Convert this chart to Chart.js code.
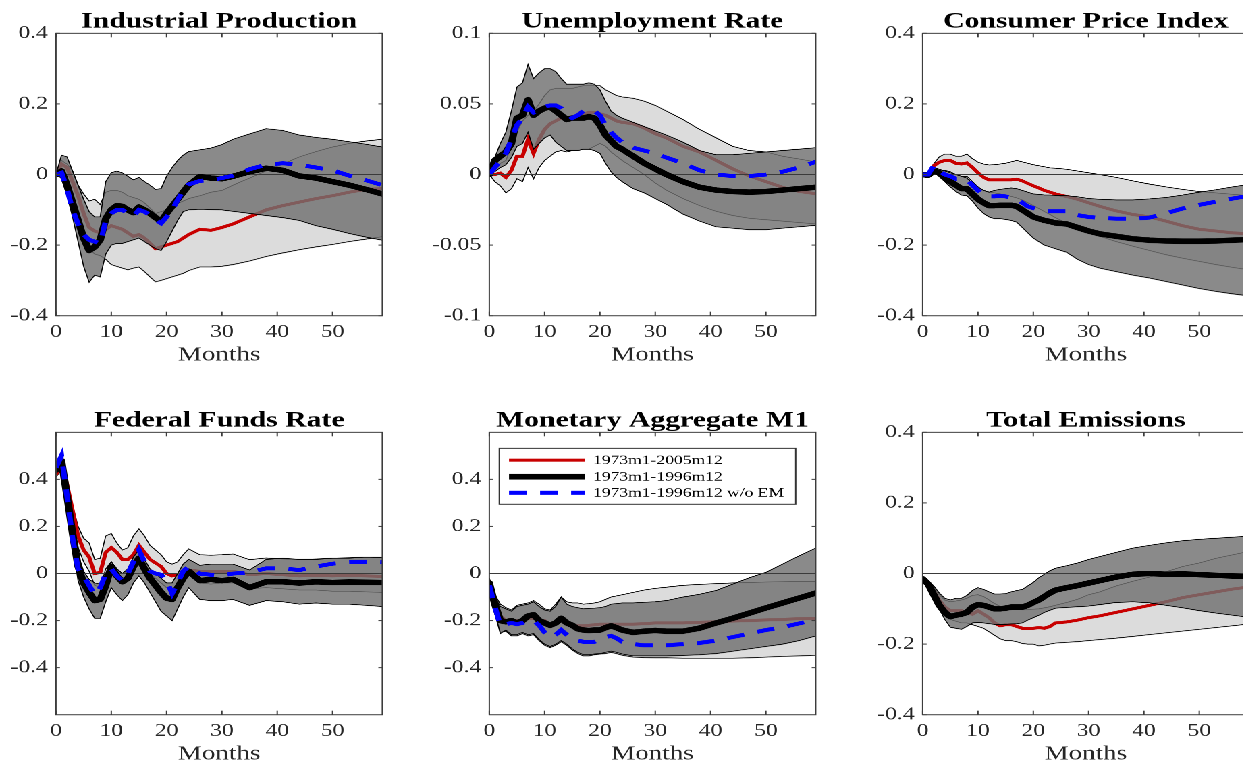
<!DOCTYPE html>
<html>
<head>
<meta charset="utf-8">
<script src="https://cdn.jsdelivr.net/npm/chart.js@4/dist/chart.umd.min.js"></script>
<style>
  html, body { margin: 0; padding: 0; background: #fff; overflow: hidden; width: 1243px; height: 763px; }
  #sheet { position: absolute; left: 0; top: 0; width: 1000px; height: 763px; transform: scaleX(1.35); transform-origin: 0 0; }
  .panel { position: absolute; }
</style>
</head>
<body>
<div id="sheet"></div>
<script>
// Horizontal stretch applied to the whole sheet of panels
const S = 1.35;
const FONT = '"Liberation Serif", "Times New Roman", serif';

// Forecast horizon (months) at which responses are listed
const months = [0,1,2,3,4,5,6,7,8,9,10,11,12,13,14,15,16,17,18,19,20,21,22,23,24,
                26,28,30,32,35,38,41,44,47,50,53,56,59];
const xRange = [0, 59];
const xTicks = [0, 10, 20, 30, 40, 50];
const yTicksWide = [-0.4, -0.2, 0, 0.2, 0.4];
const yTicksNarrow = [-0.1, -0.05, 0, 0.05, 0.1];

const panelTitles = ['Industrial Production', 'Unemployment Rate', 'Consumer Price Index',
                     'Federal Funds Rate', 'Monetary Aggregate M1', 'Total Emissions'];
const seriesLabels = ['1973m1-2005m12', '1973m1-1996m12', '1973m1-1996m12 w/o EM'];
const axisTitle = 'Months';

// Industrial production
const ipRed = [0,0.03,0.02,-0.02,-0.06,-0.11,-0.15,-0.16,-0.165,-0.155,-0.145,-0.15,-0.155,-0.165,-0.175,-0.17,-0.18,-0.195,-0.21,-0.205,-0.2,-0.195,-0.19,-0.18,-0.17,
  -0.155,-0.158,-0.15,-0.14,-0.12,-0.1,-0.088,-0.078,-0.068,-0.06,-0.05,-0.042,-0.04];
const ipRedHi = [0,0.04,0.03,0.01,-0.03,-0.055,-0.075,-0.07,-0.085,-0.05,-0.045,-0.045,-0.05,-0.06,-0.065,-0.07,-0.08,-0.095,-0.11,-0.105,-0.1,-0.09,-0.082,-0.075,-0.068,
  -0.06,-0.05,-0.045,-0.03,-0.01,0.01,0.03,0.05,0.065,0.078,0.088,0.095,0.1];
const ipRedLo = [0,-0.005,-0.04,-0.09,-0.14,-0.18,-0.21,-0.225,-0.23,-0.24,-0.255,-0.26,-0.265,-0.27,-0.265,-0.262,-0.275,-0.29,-0.304,-0.3,-0.295,-0.29,-0.285,-0.28,-0.272,
  -0.262,-0.262,-0.26,-0.255,-0.245,-0.232,-0.222,-0.213,-0.205,-0.198,-0.19,-0.183,-0.176];
const ipBlack = [0,0.01,-0.03,-0.08,-0.13,-0.18,-0.215,-0.205,-0.185,-0.125,-0.1,-0.088,-0.09,-0.1,-0.108,-0.092,-0.1,-0.11,-0.122,-0.133,-0.11,-0.09,-0.07,-0.05,-0.03,
  -0.006,-0.01,-0.012,-0.005,0.008,0.018,0.012,-0.004,-0.01,-0.02,-0.03,-0.042,-0.055];
const ipBlackHi = [0,0.055,0.05,0.01,-0.03,-0.07,-0.105,-0.12,-0.12,-0.02,0.005,0.01,0.005,-0.005,-0.015,-0.008,-0.02,-0.03,-0.042,-0.04,-0.005,0.02,0.04,0.055,0.065,
  0.07,0.075,0.085,0.1,0.115,0.13,0.125,0.112,0.105,0.1,0.093,0.086,0.078];
const ipBlackLo = [0,-0.01,-0.06,-0.12,-0.19,-0.26,-0.305,-0.285,-0.29,-0.225,-0.2,-0.195,-0.195,-0.19,-0.185,-0.18,-0.19,-0.2,-0.21,-0.215,-0.19,-0.16,-0.13,-0.105,-0.1,
  -0.098,-0.099,-0.1,-0.104,-0.11,-0.116,-0.122,-0.13,-0.145,-0.155,-0.167,-0.177,-0.186];
const ipBlue = [0,0.005,-0.04,-0.1,-0.14,-0.17,-0.185,-0.19,-0.195,-0.13,-0.11,-0.1,-0.1,-0.11,-0.118,-0.1,-0.105,-0.115,-0.128,-0.138,-0.12,-0.1,-0.072,-0.045,-0.028,
  -0.018,-0.015,-0.01,-0.003,0.015,0.028,0.032,0.028,0.02,0.012,-0.003,-0.016,-0.03];

// Unemployment rate
const urRed = [0,0,0.001,-0.002,0.003,0.013,0.013,0.025,0.015,0.025,0.032,0.036,0.038,0.04,0.04,0.04,0.042,0.043,0.044,0.044,0.043,0.042,0.04,0.038,0.037,
  0.036,0.033,0.029,0.026,0.02,0.016,0.01,0.004,-0.001,-0.005,-0.009,-0.012,-0.0135];
const urRedHi = [0,0.005,0.008,0.01,0.02,0.03,0.038,0.042,0.045,0.05,0.056,0.06,0.061,0.061,0.061,0.061,0.062,0.063,0.063,0.063,0.063,0.06,0.058,0.056,0.055,
  0.054,0.052,0.049,0.045,0.039,0.032,0.026,0.02,0.017,0.016,0.013,0.011,0.009];
const urRedLo = [0,-0.005,-0.008,-0.013,-0.01,-0.003,-0.005,0.005,-0.003,0.005,0.01,0.013,0.016,0.017,0.016,0.017,0.017,0.018,0.018,0.02,0.022,0.02,0.016,0.013,0.01,
  0.005,0,-0.006,-0.011,-0.017,-0.022,-0.026,-0.029,-0.031,-0.032,-0.033,-0.034,-0.035];
const urBlack = [0,0.01,0.013,0.016,0.022,0.04,0.042,0.053,0.042,0.045,0.047,0.048,0.045,0.042,0.039,0.04,0.04,0.04,0.041,0.04,0.035,0.028,0.024,0.02,0.018,
  0.013,0.008,0.004,0,-0.005,-0.009,-0.011,-0.012,-0.0125,-0.012,-0.011,-0.01,-0.009];
const urBlackHi = [0,0.012,0.022,0.03,0.045,0.062,0.065,0.078,0.068,0.072,0.075,0.075,0.073,0.068,0.064,0.064,0.064,0.064,0.065,0.064,0.06,0.052,0.045,0.042,0.04,
  0.037,0.034,0.031,0.028,0.023,0.017,0.014,0.014,0.015,0.016,0.017,0.018,0.019];
const urBlackLo = [0,0.002,0.005,0.007,0.012,0.02,0.022,0.03,0.018,0.022,0.026,0.028,0.023,0.02,0.017,0.017,0.017,0.018,0.018,0.017,0.015,0.008,0.002,-0.002,-0.005,
  -0.01,-0.013,-0.017,-0.021,-0.028,-0.033,-0.037,-0.038,-0.039,-0.039,-0.038,-0.037,-0.036];
const urBlue = [0,0.005,0.01,0.015,0.025,0.035,0.04,0.048,0.044,0.046,0.048,0.049,0.049,0.047,0.043,0.04,0.042,0.045,0.046,0.045,0.042,0.035,0.03,0.026,0.023,
  0.019,0.017,0.015,0.012,0.008,0.003,0,-0.001,-0.001,0,0.002,0.005,0.009];

// Consumer price index
const cpiRed = [0,0,0.025,0.035,0.04,0.04,0.032,0.03,0.033,0.02,0.005,-0.008,-0.015,-0.015,-0.015,-0.015,-0.015,-0.013,-0.018,-0.025,-0.032,-0.038,-0.045,-0.05,-0.055,
  -0.062,-0.07,-0.08,-0.09,-0.103,-0.113,-0.12,-0.132,-0.145,-0.155,-0.16,-0.165,-0.168];
const cpiRedHi = [0,0.005,0.03,0.05,0.058,0.058,0.052,0.052,0.058,0.045,0.035,0.03,0.027,0.028,0.03,0.032,0.036,0.04,0.036,0.032,0.028,0.025,0.022,0.019,0.018,
  0.015,0.01,0.005,0,-0.008,-0.018,-0.027,-0.035,-0.042,-0.048,-0.052,-0.056,-0.06];
const cpiRedLo = [0,-0.005,0.005,0.01,0.012,0.008,0,-0.005,-0.005,-0.02,-0.035,-0.045,-0.05,-0.052,-0.055,-0.058,-0.062,-0.066,-0.072,-0.08,-0.088,-0.096,-0.105,-0.113,-0.122,
  -0.137,-0.152,-0.165,-0.175,-0.19,-0.203,-0.215,-0.227,-0.237,-0.246,-0.255,-0.263,-0.27];
const cpiBlack = [0,-0.002,0.01,0.005,-0.01,-0.02,-0.03,-0.04,-0.04,-0.055,-0.07,-0.08,-0.088,-0.088,-0.087,-0.087,-0.087,-0.09,-0.1,-0.11,-0.12,-0.125,-0.13,-0.133,-0.137,
  -0.14,-0.15,-0.16,-0.168,-0.175,-0.182,-0.186,-0.188,-0.189,-0.189,-0.188,-0.186,-0.184];
const cpiBlackHi = [0,0,0.02,0.015,0.01,0.005,0,-0.005,-0.01,-0.025,-0.035,-0.045,-0.05,-0.045,-0.042,-0.04,-0.038,-0.04,-0.045,-0.05,-0.055,-0.056,-0.058,-0.058,-0.059,
  -0.06,-0.063,-0.068,-0.07,-0.072,-0.072,-0.069,-0.065,-0.058,-0.05,-0.043,-0.035,-0.028];
const cpiBlackLo = [0,-0.003,0.005,-0.005,-0.02,-0.035,-0.048,-0.058,-0.06,-0.075,-0.095,-0.11,-0.12,-0.125,-0.125,-0.127,-0.13,-0.135,-0.15,-0.165,-0.18,-0.19,-0.2,-0.205,-0.21,
  -0.22,-0.24,-0.255,-0.265,-0.275,-0.285,-0.293,-0.303,-0.313,-0.323,-0.331,-0.338,-0.344];
const cpiBlue = [0,0,0.025,0.01,0,-0.005,-0.012,-0.012,-0.015,-0.03,-0.045,-0.058,-0.062,-0.062,-0.06,-0.062,-0.065,-0.07,-0.08,-0.09,-0.095,-0.1,-0.103,-0.104,-0.104,
  -0.104,-0.115,-0.12,-0.123,-0.125,-0.125,-0.122,-0.11,-0.096,-0.086,-0.077,-0.068,-0.06];

// Federal funds rate
const ffrRed = [0.42,0.47,0.38,0.27,0.16,0.1,0.07,0,0.005,0.09,0.11,0.09,0.06,0.06,0.08,0.12,0.09,0.06,0.045,0.03,0,-0.01,-0.005,0,0.015,
  0.01,0.01,0.008,0.01,-0.005,0,-0.005,-0.01,-0.008,-0.01,-0.008,-0.01,-0.012];
const ffrRedHi = [0.43,0.49,0.4,0.29,0.2,0.15,0.13,0.06,0.065,0.16,0.17,0.13,0.1,0.11,0.16,0.19,0.16,0.12,0.1,0.08,0.05,0.04,0.05,0.08,0.105,
  0.08,0.078,0.08,0.083,0.059,0.066,0.062,0.059,0.062,0.065,0.067,0.07,0.069];
const ffrRedLo = [0.41,0.44,0.34,0.22,0.11,0.05,0.01,-0.05,-0.06,0.02,0.05,0.02,0,0.01,0.05,0.08,0.04,0,-0.02,-0.04,-0.06,-0.07,-0.04,-0.015,0,
  -0.04,-0.045,-0.04,-0.04,-0.065,-0.06,-0.065,-0.07,-0.07,-0.075,-0.075,-0.078,-0.08];
const ffrBlack = [0.44,0.48,0.33,0.17,0.03,-0.04,-0.08,-0.115,-0.11,-0.05,0.03,-0.01,-0.035,-0.02,0.03,0.065,0.02,-0.02,-0.05,-0.08,-0.105,-0.11,-0.06,-0.02,0.01,
  -0.03,-0.025,-0.03,-0.025,-0.06,-0.035,-0.035,-0.04,-0.035,-0.038,-0.036,-0.037,-0.038];
const ffrBlackHi = [0.45,0.5,0.36,0.21,0.08,0.01,-0.025,-0.04,-0.045,0,0.05,0.02,0,0.02,0.07,0.1,0.06,0.02,0,-0.02,-0.04,-0.04,0,0.04,0.06,
  0.035,0.04,0.04,0.04,0.015,0.06,0.065,0.06,0.06,0.065,0.065,0.07,0.068];
const ffrBlackLo = [0.43,0.46,0.3,0.12,-0.03,-0.1,-0.15,-0.19,-0.19,-0.12,-0.06,-0.09,-0.115,-0.09,-0.04,-0.01,-0.04,-0.08,-0.12,-0.16,-0.18,-0.2,-0.15,-0.1,-0.06,
  -0.11,-0.115,-0.115,-0.11,-0.135,-0.115,-0.12,-0.13,-0.125,-0.13,-0.13,-0.135,-0.14];
const ffrBlue = [0.45,0.5,0.33,0.15,0.02,-0.01,-0.05,-0.09,-0.06,0,0.02,-0.01,-0.03,0,0.05,0.1,0.05,0.01,0,-0.005,-0.03,-0.085,-0.04,0.01,0.03,
  0,-0.005,-0.008,0,0.005,0.022,0.022,0.015,0.03,0.042,0.048,0.05,0.048];

// Monetary aggregate M1
const m1Red = [-0.03,-0.12,-0.18,-0.2,-0.21,-0.2,-0.2,-0.19,-0.19,-0.2,-0.2,-0.215,-0.21,-0.2,-0.21,-0.22,-0.222,-0.222,-0.22,-0.218,-0.215,-0.215,-0.215,-0.215,-0.215,
  -0.215,-0.213,-0.21,-0.21,-0.21,-0.207,-0.205,-0.202,-0.2,-0.197,-0.195,-0.192,-0.19];
const m1RedHi = [-0.02,-0.09,-0.13,-0.145,-0.155,-0.135,-0.13,-0.125,-0.115,-0.13,-0.15,-0.155,-0.13,-0.1,-0.12,-0.125,-0.125,-0.13,-0.128,-0.125,-0.12,-0.11,-0.1,-0.095,-0.09,
  -0.08,-0.07,-0.063,-0.058,-0.05,-0.046,-0.043,-0.04,-0.038,-0.036,-0.035,-0.034,-0.033];
const m1RedLo = [-0.04,-0.16,-0.25,-0.245,-0.265,-0.265,-0.255,-0.265,-0.26,-0.285,-0.305,-0.315,-0.305,-0.29,-0.305,-0.325,-0.34,-0.35,-0.35,-0.345,-0.342,-0.34,-0.335,-0.34,-0.347,
  -0.355,-0.357,-0.358,-0.358,-0.36,-0.36,-0.36,-0.36,-0.358,-0.355,-0.352,-0.35,-0.347];
const m1Black = [-0.04,-0.13,-0.2,-0.205,-0.2,-0.21,-0.2,-0.18,-0.175,-0.2,-0.21,-0.22,-0.21,-0.19,-0.21,-0.22,-0.235,-0.24,-0.242,-0.24,-0.24,-0.23,-0.222,-0.23,-0.24,
  -0.25,-0.245,-0.242,-0.245,-0.245,-0.232,-0.21,-0.19,-0.168,-0.146,-0.125,-0.104,-0.083];
const m1BlackHi = [-0.03,-0.1,-0.14,-0.15,-0.16,-0.14,-0.135,-0.13,-0.12,-0.14,-0.155,-0.16,-0.14,-0.1,-0.13,-0.14,-0.145,-0.15,-0.148,-0.147,-0.145,-0.14,-0.13,-0.128,-0.125,
  -0.125,-0.122,-0.12,-0.115,-0.1,-0.088,-0.072,-0.045,-0.018,0.005,0.04,0.075,0.108];
const m1BlackLo = [-0.05,-0.17,-0.255,-0.24,-0.26,-0.26,-0.25,-0.26,-0.255,-0.28,-0.3,-0.31,-0.3,-0.285,-0.3,-0.32,-0.335,-0.345,-0.345,-0.342,-0.34,-0.335,-0.33,-0.335,-0.342,
  -0.35,-0.35,-0.35,-0.35,-0.348,-0.345,-0.34,-0.33,-0.32,-0.31,-0.3,-0.285,-0.265];
const m1Blue = [-0.05,-0.14,-0.22,-0.215,-0.21,-0.215,-0.21,-0.2,-0.2,-0.22,-0.25,-0.27,-0.26,-0.24,-0.26,-0.275,-0.285,-0.29,-0.29,-0.29,-0.28,-0.27,-0.265,-0.275,-0.29,
  -0.3,-0.305,-0.305,-0.305,-0.3,-0.295,-0.285,-0.27,-0.255,-0.24,-0.228,-0.212,-0.196];

// Total emissions
const emRed = [-0.015,-0.03,-0.05,-0.075,-0.095,-0.105,-0.105,-0.105,-0.11,-0.115,-0.105,-0.115,-0.125,-0.14,-0.148,-0.145,-0.145,-0.15,-0.155,-0.155,-0.155,-0.153,-0.155,-0.15,-0.14,
  -0.137,-0.132,-0.125,-0.12,-0.11,-0.1,-0.09,-0.08,-0.068,-0.06,-0.052,-0.044,-0.038];
const emRedHi = [-0.01,-0.02,-0.04,-0.06,-0.075,-0.08,-0.078,-0.075,-0.07,-0.062,-0.06,-0.065,-0.075,-0.085,-0.093,-0.097,-0.1,-0.101,-0.102,-0.102,-0.101,-0.1,-0.097,-0.094,-0.09,
  -0.082,-0.073,-0.06,-0.052,-0.035,-0.022,-0.01,0.005,0.02,0.03,0.043,0.053,0.063];
const emRedLo = [-0.015,-0.035,-0.07,-0.1,-0.12,-0.13,-0.135,-0.14,-0.14,-0.145,-0.15,-0.155,-0.165,-0.175,-0.185,-0.19,-0.19,-0.193,-0.198,-0.2,-0.2,-0.205,-0.203,-0.2,-0.197,
  -0.195,-0.193,-0.19,-0.187,-0.183,-0.178,-0.173,-0.168,-0.163,-0.158,-0.153,-0.148,-0.143];
const emBlack = [-0.015,-0.03,-0.06,-0.09,-0.11,-0.122,-0.118,-0.115,-0.11,-0.095,-0.088,-0.09,-0.095,-0.1,-0.1,-0.098,-0.095,-0.095,-0.095,-0.09,-0.082,-0.075,-0.065,-0.055,-0.047,
  -0.04,-0.034,-0.027,-0.02,-0.01,-0.002,0,-0.002,-0.001,-0.003,-0.005,-0.007,-0.009];
const emBlackHi = [-0.01,-0.02,-0.035,-0.055,-0.07,-0.075,-0.07,-0.07,-0.062,-0.048,-0.04,-0.045,-0.052,-0.058,-0.058,-0.057,-0.052,-0.048,-0.045,-0.035,-0.025,-0.012,-0.002,0.008,0.015,
  0.022,0.03,0.04,0.048,0.06,0.072,0.08,0.087,0.093,0.097,0.1,0.103,0.106];
const emBlackLo = [-0.015,-0.04,-0.07,-0.1,-0.13,-0.152,-0.155,-0.158,-0.15,-0.14,-0.138,-0.14,-0.142,-0.144,-0.144,-0.144,-0.143,-0.142,-0.14,-0.132,-0.125,-0.118,-0.11,-0.104,-0.098,
  -0.096,-0.094,-0.092,-0.088,-0.082,-0.08,-0.083,-0.09,-0.097,-0.105,-0.112,-0.118,-0.124];

// Panel placement on the page (px, before the horizontal stretch is undone)
const colLeft = [56, 489.3, 923];
const rowTop = [33.3, 432.3];
const plotW = 326.4, plotH = 282;
const padLeft = 60, padRight = 12, padTop = 33.3, xAxisH = 51.3;

const panels = [
  { title: panelTitles[0], col: 0, row: 0, yMin: -0.4, yMax: 0.4, yTicks: yTicksWide,
    red: ipRed, redHi: ipRedHi, redLo: ipRedLo, black: ipBlack, blackHi: ipBlackHi, blackLo: ipBlackLo, blue: ipBlue },
  { title: panelTitles[1], col: 1, row: 0, yMin: -0.1, yMax: 0.1, yTicks: yTicksNarrow,
    red: urRed, redHi: urRedHi, redLo: urRedLo, black: urBlack, blackHi: urBlackHi, blackLo: urBlackLo, blue: urBlue },
  { title: panelTitles[2], col: 2, row: 0, yMin: -0.4, yMax: 0.4, yTicks: yTicksWide,
    red: cpiRed, redHi: cpiRedHi, redLo: cpiRedLo, black: cpiBlack, blackHi: cpiBlackHi, blackLo: cpiBlackLo, blue: cpiBlue },
  { title: panelTitles[3], col: 0, row: 1, yMin: -0.6, yMax: 0.6, yTicks: yTicksWide,
    red: ffrRed, redHi: ffrRedHi, redLo: ffrRedLo, black: ffrBlack, blackHi: ffrBlackHi, blackLo: ffrBlackLo, blue: ffrBlue },
  { title: panelTitles[4], col: 1, row: 1, yMin: -0.6, yMax: 0.6, yTicks: yTicksWide, legend: true,
    red: m1Red, redHi: m1RedHi, redLo: m1RedLo, black: m1Black, blackHi: m1BlackHi, blackLo: m1BlackLo, blue: m1Blue },
  { title: panelTitles[5], col: 2, row: 1, yMin: -0.4, yMax: 0.4, yTicks: yTicksWide,
    red: emRed, redHi: emRedHi, redLo: emRedLo, black: emBlack, blackHi: emBlackHi, blackLo: emBlackLo, blue: null }
];

const RED = '#c80000', BLACK = '#000000', BLUE = '#0000ff';
const LIGHT_BAND = '#dcdcdc', DARK_BAND = 'rgba(112,112,112,0.82)';
const lineStyles = [
  { color: RED, width: 3, dash: [] },
  { color: BLACK, width: 5.5, dash: [] },
  { color: BLUE, width: 4, dash: [13, 10] }
];

const pts = vals => months.map((m, i) => ({ x: m, y: vals[i] }));

// Box around the axes with inward tick marks on all four sides
const axesFrame = {
  id: 'axesFrame',
  afterDatasetsDraw(chart) {
    const { ctx, chartArea: a, scales: { x, y } } = chart;
    ctx.save();
    ctx.strokeStyle = '#3c3c3c';
    ctx.lineWidth = 1;
    ctx.strokeRect(a.left, a.top, a.right - a.left, a.bottom - a.top);
    const tl = 4, tlx = 4 / S;
    ctx.beginPath();
    x.ticks.forEach(t => {
      const px = x.getPixelForValue(t.value);
      ctx.moveTo(px, a.bottom); ctx.lineTo(px, a.bottom - tl);
      ctx.moveTo(px, a.top); ctx.lineTo(px, a.top + tl);
    });
    y.ticks.forEach(t => {
      const py = y.getPixelForValue(t.value);
      ctx.moveTo(a.left, py); ctx.lineTo(a.left + tlx, py);
      ctx.moveTo(a.right, py); ctx.lineTo(a.right - tlx, py);
    });
    ctx.stroke();
    ctx.restore();
  }
};

// Bold title centred over the plotting area
const panelTitle = {
  id: 'panelTitle',
  afterDraw(chart, args, opts) {
    const { ctx, chartArea: a } = chart;
    ctx.save();
    ctx.font = 'bold 22px ' + FONT;
    ctx.fillStyle = '#000';
    ctx.textAlign = 'center';
    ctx.textBaseline = 'alphabetic';
    ctx.fillText(opts.text, (a.left + a.right) / 2, a.top - 5.6);
    ctx.restore();
  }
};

// Boxed key with line samples, placed inside the plotting area
const seriesKey = {
  id: 'seriesKey',
  afterDraw(chart, args, opts) {
    if (!opts.show) return;
    const { ctx, chartArea: a } = chart;
    const bx = a.left + 10 / S, by = a.top + 16, bw = 296.4 / S, bh = 55.7;
    ctx.save();
    ctx.fillStyle = '#fff';
    ctx.fillRect(bx, by, bw, bh);
    ctx.strokeStyle = '#333';
    ctx.lineWidth = 1;
    ctx.strokeRect(bx, by, bw, bh);
    const rows = [11.7, 28.3, 44.3];
    seriesLabels.forEach((label, i) => {
      const st = lineStyles[i];
      const yy = by + rows[i];
      ctx.beginPath();
      ctx.setLineDash(st.dash);
      ctx.strokeStyle = st.color;
      ctx.lineWidth = st.width;
      ctx.moveTo(bx + 7.2, yy);
      ctx.lineTo(bx + 63.5, yy);
      ctx.stroke();
      ctx.setLineDash([]);
      ctx.fillStyle = '#000';
      ctx.font = '13px ' + FONT;
      ctx.textAlign = 'left';
      ctx.textBaseline = 'middle';
      ctx.fillText(label, bx + 69.4, yy + 0.5);
    });
    ctx.restore();
  }
};

const sheet = document.getElementById('sheet');

panels.forEach(p => {
  const div = document.createElement('div');
  div.className = 'panel';
  const left = (colLeft[p.col] - padLeft) / S;
  const top = rowTop[p.row] - padTop;
  const w = (padLeft + plotW + padRight) / S;
  const h = padTop + plotH + xAxisH;
  div.style.left = left + 'px';
  div.style.top = top + 'px';
  div.style.width = w + 'px';
  div.style.height = h + 'px';
  const canvas = document.createElement('canvas');
  div.appendChild(canvas);
  sheet.appendChild(div);

  const thin = { borderColor: '#000', borderWidth: 0.8, pointRadius: 0, tension: 0, clip: 0 };
  const datasets = [];
  // Drawn last to first: index 0 ends on top
  if (p.blue) {
    datasets.push({ label: seriesLabels[2], data: pts(p.blue), borderColor: BLUE, borderWidth: 4,
      borderDash: [13, 10], pointRadius: 0, tension: 0, clip: 0, fill: false });
  }
  datasets.push({ label: seriesLabels[1], data: pts(p.black), borderColor: BLACK, borderWidth: 5.5,
    pointRadius: 0, tension: 0, clip: 0, fill: false, borderJoinStyle: 'round', borderCapStyle: 'round' });
  datasets.push({ label: 'zero', data: xRange.map(m => ({ x: m, y: 0 })), borderColor: '#3a3a3a',
    borderWidth: 1.3, pointRadius: 0, clip: 0, fill: false });
  datasets.push(Object.assign({ label: 'hi96', data: pts(p.blackHi), fill: false }, thin));
  datasets.push(Object.assign({ label: 'lo96', data: pts(p.blackLo), fill: '-1', backgroundColor: DARK_BAND }, thin));
  datasets.push({ label: seriesLabels[0], data: pts(p.red), borderColor: RED, borderWidth: 3,
    pointRadius: 0, tension: 0, clip: 0, fill: false });
  datasets.push(Object.assign({ label: 'hi05', data: pts(p.redHi), fill: false }, thin));
  datasets.push(Object.assign({ label: 'lo05', data: pts(p.redLo), fill: '-1', backgroundColor: LIGHT_BAND }, thin));

  new Chart(canvas, {
    type: 'line',
    data: { datasets },
    options: {
      responsive: true,
      maintainAspectRatio: false,
      animation: false,
      devicePixelRatio: 2,
      events: [],
      layout: { padding: { top: padTop, right: padRight / S, bottom: 0, left: 0 } },
      plugins: {
        legend: { display: false },
        tooltip: { enabled: false },
        panelTitle: { text: p.title },
        seriesKey: { show: !!p.legend },
        filler: { drawTime: 'beforeDatasetDraw' }
      },
      scales: {
        x: {
          type: 'linear', min: xRange[0], max: xRange[1],
          afterBuildTicks: s => { s.ticks = xTicks.map(v => ({ value: v })); },
          afterFit: s => { s.height = xAxisH; },
          grid: { display: false, drawTicks: false },
          border: { display: false },
          ticks: { padding: 6, color: '#262626', font: { family: FONT, size: 17.5 },
                   maxRotation: 0, autoSkip: false, callback: v => String(v) },
          title: { display: true, text: axisTitle, color: '#262626',
                   font: { family: FONT, size: 20 }, padding: 0 }
        },
        y: {
          type: 'linear', min: p.yMin, max: p.yMax,
          afterBuildTicks: s => { s.ticks = p.yTicks.map(v => ({ value: v })); },
          afterFit: s => { s.width = padLeft / S; },
          grid: { display: false, drawTicks: false },
          border: { display: false },
          ticks: { padding: 6, color: '#262626', font: { family: FONT, size: 17.5 },
                   autoSkip: false, callback: v => String(v) }
        }
      }
    },
    plugins: [axesFrame, panelTitle, seriesKey]
  });
});
</script>
</body>
</html>
